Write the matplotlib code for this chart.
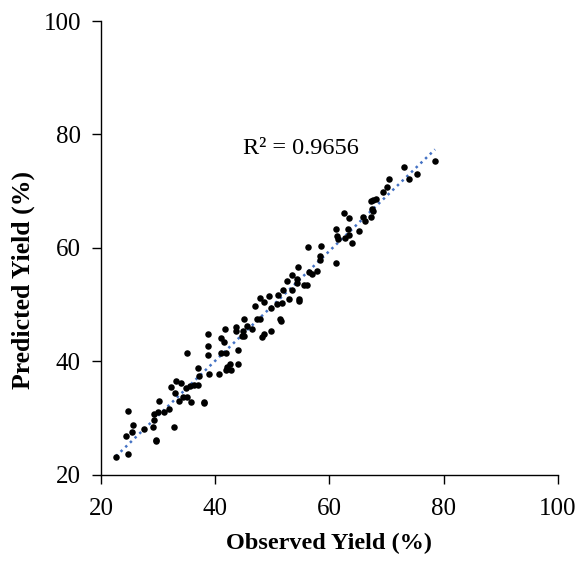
import numpy as np
import matplotlib.pyplot as plt

plt.rcParams['font.family'] = ['Liberation Serif', 'DejaVu Serif']

# observed / predicted yield (%)
observed = [22.6, 24.7, 24.3, 24.7, 25.5, 25.6, 27.5, 29.6, 29.1, 29.2,
            29.2, 30.0, 30.1, 31.0, 31.9, 32.2, 32.7, 32.9, 33.2, 33.6,
            34.0, 34.4, 35.0, 34.9, 35.1, 35.7, 35.5, 36.2, 37.0, 36.9,
            37.2, 38.0, 38.7, 38.8, 38.8, 38.9, 40.6, 41.0, 41.0, 41.6,
            41.7, 41.8, 41.8, 42.1, 42.6, 42.8, 43.7, 43.7, 44.0, 43.9,
            44.6, 44.9, 45.0, 45.1, 45.6, 46.5, 47.0, 47.3, 47.8, 47.9,
            48.2, 48.5, 48.6, 49.5, 49.8, 49.8, 50.8, 51.0, 51.4, 51.5,
            51.7, 51.9, 52.6, 53.0, 53.4, 53.5, 54.4, 54.4, 54.5, 54.6,
            54.7, 55.6, 56.1, 56.3, 56.5, 56.9, 57.9, 58.4, 58.5, 58.4,
            61.1, 61.1, 61.3, 61.5, 62.5, 62.8, 63.3, 63.4, 63.5, 64.0,
            65.1, 65.9, 66.2, 67.2, 67.2, 67.5, 67.6, 67.7, 68.1, 69.4,
            70.0, 70.4, 73.0, 73.9, 75.4, 78.5, 29.7, 38.1]
predicted = [23.1, 23.7, 26.9, 31.3, 27.5, 28.7, 28.1, 26.0, 28.5, 29.7,
             30.8, 31.0, 33.0, 31.0, 31.6, 35.4, 28.5, 34.4, 36.5, 33.0,
             36.2, 33.8, 41.5, 35.3, 33.8, 32.9, 35.6, 35.8, 35.8, 38.8,
             37.4, 32.7, 44.9, 42.8, 41.2, 37.8, 37.8, 44.1, 41.4, 43.5,
             45.7, 41.4, 38.5, 39.0, 39.6, 38.4, 46.0, 45.4, 42.0, 39.6,
             44.4, 45.4, 44.4, 47.5, 46.3, 45.7, 49.8, 47.4, 47.5, 51.2,
             44.3, 44.8, 50.5, 51.5, 49.4, 45.4, 50.2, 51.7, 47.5, 47.1,
             50.3, 52.6, 54.2, 51.0, 52.5, 55.2, 53.9, 54.6, 56.6, 51.0,
             50.7, 53.4, 53.5, 60.1, 55.8, 55.4, 55.9, 57.9, 60.3, 58.5,
             63.4, 57.3, 62.1, 61.5, 66.2, 61.8, 63.4, 65.2, 62.2, 60.8,
             63.0, 65.4, 64.8, 65.4, 68.3, 66.9, 66.5, 68.5, 68.7, 69.9,
             70.8, 72.1, 74.2, 72.1, 73.1, 75.3, 26.1, 32.9]
r2_label = 'R² = 0.9656'

x = np.array(observed)
y = np.array(predicted)

fig = plt.figure(figsize=(5.81, 5.68), dpi=100)
ax = fig.add_axes([0.174, 0.164, 0.786, 0.799])

ax.scatter(x, y, s=22, color='black', zorder=3, linewidths=0)

# linear trendline
k, b = np.polyfit(x, y, 1)
xl = np.array([x.min(), x.max()])
ax.plot(xl, k * xl + b, linestyle=(0, (1, 1.6)), color='#4472C4', lw=1.8, zorder=2)

ax.text(44.9, 77.6, r2_label, fontsize=17.5, ha='left', va='center')

ax.set_xlim(20, 100)
ax.set_ylim(20, 100)
ax.set_xticks(range(20, 101, 20))
ax.set_yticks(range(20, 101, 20))
ax.tick_params(direction='out', length=6.5, width=1, labelsize=18, pad=8)
ax.tick_params(axis='x', pad=10)
for s in ['top', 'right']:
    ax.spines[s].set_visible(False)
for s in ['left', 'bottom']:
    ax.spines[s].set_linewidth(1)

ax.set_xlabel('Observed Yield (%)', fontsize=17.5, fontweight='bold')
ax.set_ylabel('Predicted Yield (%)', fontsize=18.5, fontweight='bold')
ax.xaxis.set_label_coords(0.5, -0.127)
ax.yaxis.set_label_coords(-0.145, 0.43)

fig.savefig('out.png', dpi=100)
